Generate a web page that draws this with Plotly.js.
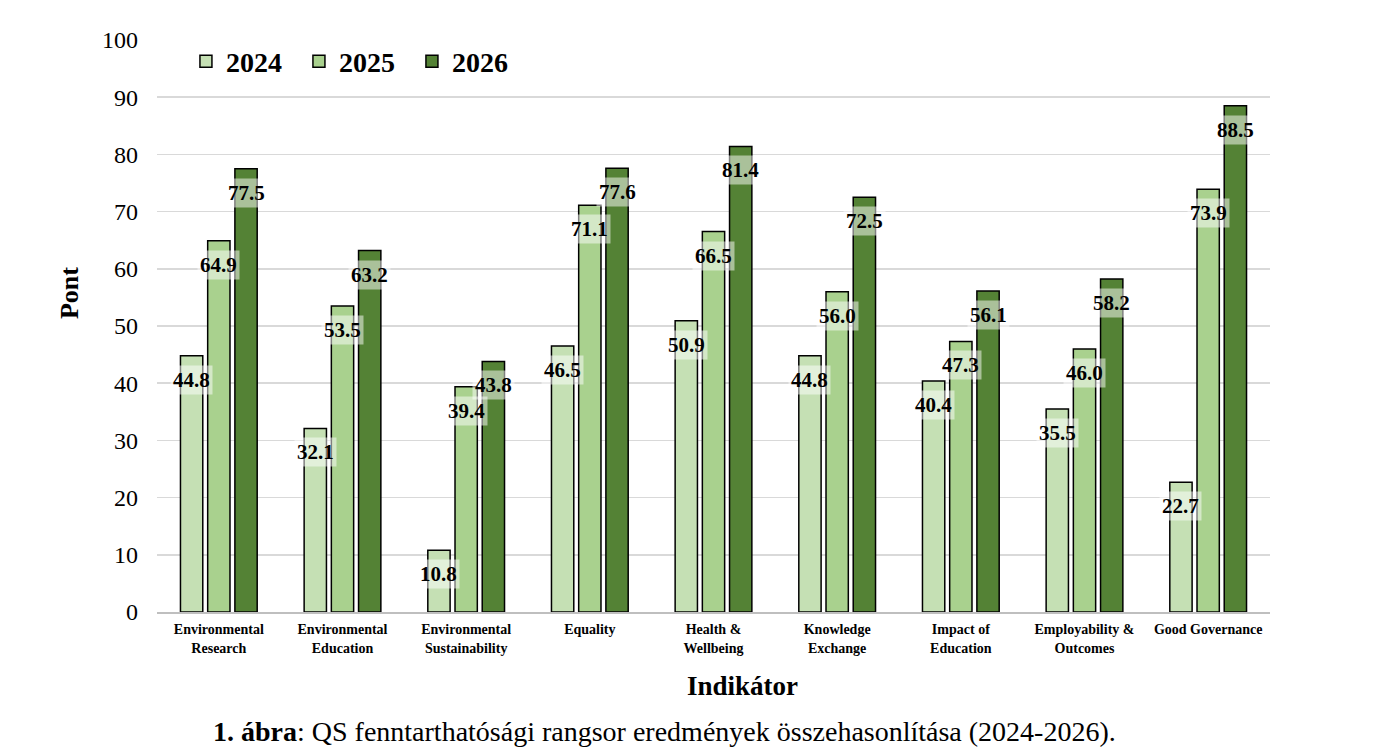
<!DOCTYPE html>
<html><head><meta charset="utf-8">
<script src="https://cdn.plot.ly/plotly-3.0.1.min.js"></script>
<style>html,body{margin:0;padding:0;background:#fff;}#chart{width:1377px;height:753px;}</style>
</head><body><div id="chart"></div>
<script>
const categories = [
  "Environmental<br>Research", "Environmental<br>Education", "Environmental<br>Sustainability",
  "Equality", "Health &<br>Wellbeing", "Knowledge<br>Exchange", "Impact of<br>Education",
  "Employability &<br>Outcomes", "Good Governance"
];
const years = ["2024", "2025", "2026"];
const values2024 = [44.8, 32.1, 10.8, 46.5, 50.9, 44.8, 40.4, 35.5, 22.7];
const values2025 = [64.9, 53.5, 39.4, 71.1, 66.5, 56.0, 47.3, 46.0, 73.9];
const values2026 = [77.5, 63.2, 43.8, 77.6, 81.4, 72.5, 56.1, 58.2, 88.5];
const yTicks = [0, 10, 20, 30, 40, 50, 60, 70, 80, 90, 100];

const series = [values2024, values2025, values2026];
const colors = ["#c5e0b4", "#a9d18e", "#548235"];
const serif = "Liberation Serif";
const bargap = 0.34;

const traces = series.map((vals, i) => ({
  type: "bar", name: years[i], x: categories, y: vals,
  marker: {color: colors[i], line: {color: "#000", width: 1.5}},
  hoverinfo: "skip"
}));

const annotations = [];
series.forEach((vals, i) => {
  const off = (i - 1) * (1 - bargap) / 3;
  vals.forEach((v, j) => {
    annotations.push({
      x: j + off, y: v, xref: "x", yref: "y",
      text: "<b>" + v.toFixed(1) + "</b>", showarrow: false, yshift: -24,
      font: {family: serif, size: 21, color: "#000"},
      bgcolor: "rgba(255,255,255,0.5)", borderpad: 2
    });
  });
});
annotations.push({
  xref: "paper", yref: "paper", x: 0.5265, y: -0.10, xanchor: "center", yanchor: "top",
  text: "<b>Indikátor</b>", showarrow: false,
  font: {family: serif, size: 27, color: "#000"}
});
annotations.push({
  xref: "paper", yref: "paper", x: -0.078, y: 0.558, xanchor: "center", yanchor: "middle", textangle: -90,
  text: "<b>Pont</b>", showarrow: false,
  font: {family: serif, size: 26, color: "#000"}
});
annotations.push({
  xref: "paper", yref: "paper", x: 0.456, y: -0.178, xanchor: "center", yanchor: "top",
  text: "<b>1. ábra</b>: QS fenntarthatósági rangsor eredmények összehasonlítása (2024-2026).",
  showarrow: false, font: {family: serif, size: 28, color: "#000"}
});

const layout = {
  width: 1377, height: 753,
  margin: {l: 157, r: 107, t: 40, b: 141},
  paper_bgcolor: "#fff", plot_bgcolor: "#fff",
  barmode: "group", bargap: bargap, bargroupgap: 0.18,
  showlegend: true,
  legend: {
    orientation: "h", x: 0.026, y: 1.006, xanchor: "left", yanchor: "top",
    bgcolor: "rgba(0,0,0,0)", font: {family: serif, size: 28, color: "#000", weight: "bold"},
    entrywidth: 68, entrywidthmode: "pixels", itemclick: false
  },
  xaxis: {
    type: "category", showgrid: false, showline: true, linecolor: "#bfbfbf", linewidth: 1.5,
    ticks: "", ticklabelstandoff: 4, tickfont: {family: serif, size: 14, color: "#000", weight: "bold"},
    fixedrange: true
  },
  yaxis: {
    range: [0, 100], tickvals: yTicks, ticktext: yTicks.map(String),
    showgrid: true, gridcolor: "#d9d9d9", gridwidth: 1.5, zeroline: false, showline: false,
    ticks: "", ticklabelstandoff: 18,
    tickfont: {family: serif, size: 24, color: "#000"}, fixedrange: true
  },
  annotations: annotations
};

Plotly.newPlot("chart", traces, layout, {displayModeBar: false, staticPlot: true});
</script></body></html>
